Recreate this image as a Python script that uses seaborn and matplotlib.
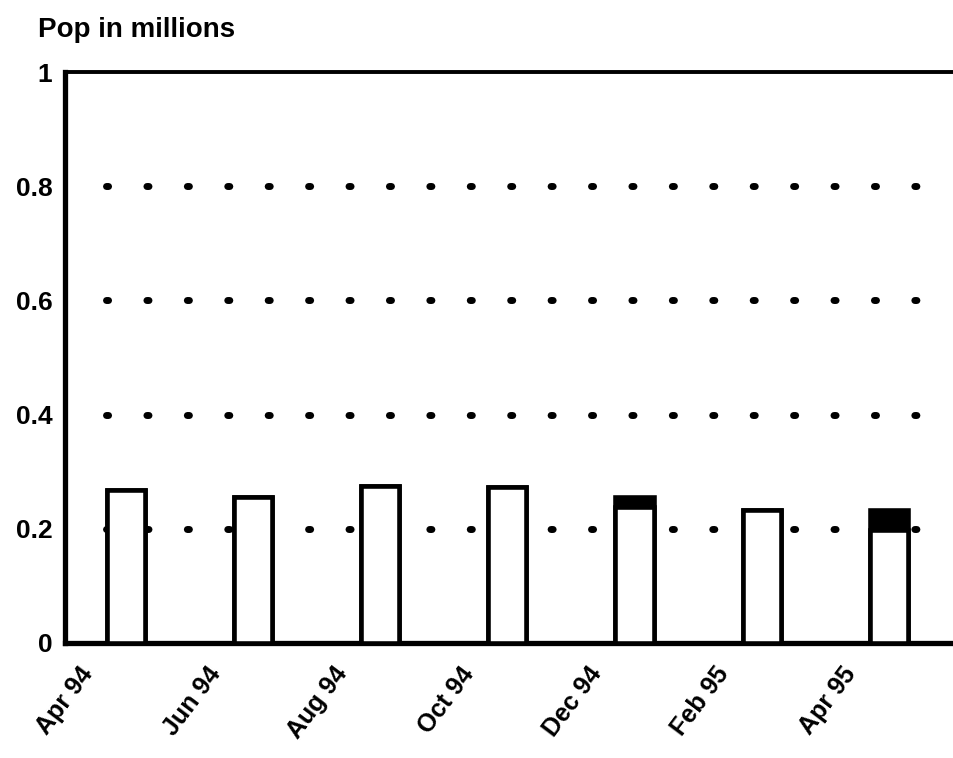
import matplotlib
matplotlib.use("Agg")
import matplotlib.pyplot as plt
import matplotlib.transforms as mtransforms
import seaborn as sns
import pandas as pd

# --- data ---
months = ["Apr 94", "Jun 94", "Aug 94", "Oct 94", "Dec 94", "Feb 95", "Apr 95"]
base_pop = [0.268, 0.256, 0.275, 0.273, 0.238, 0.233, 0.198]   # white part
extra_pop = [0.0, 0.0, 0.0, 0.0, 0.018, 0.0, 0.035]          # black cap
yticks = [0, 0.2, 0.4, 0.6, 0.8, 1]
ytick_labels = ["0", "0.2", "0.4", "0.6", "0.8", "1"]

df = pd.DataFrame({"month": months, "base": base_pop,
                   "total": [b + e for b, e in zip(base_pop, extra_pop)]})

sns.set_style("white")
plt.rcParams["font.family"] = ["Liberation Sans", "DejaVu Sans"]
plt.rcParams["font.weight"] = "bold"
plt.rcParams["text.color"] = "black"
plt.rcParams["xtick.color"] = "black"
plt.rcParams["ytick.color"] = "black"

fig = plt.figure(figsize=(9.54, 7.58), dpi=100)
ax = fig.add_axes([65 / 954, 115 / 758, 900 / 954, 571 / 758])

# dotted grid behind the bars
for y in yticks[1:-1]:
    ax.axhline(y, color="black", linewidth=5.0, linestyle=(0, (0.3, 5.52)),
               dash_capstyle="round", zorder=0, xmin=0.046, xmax=0.96)

# stacked bars: black total first, white base on top
sns.barplot(data=df, x="month", y="total", color="black", width=0.3,
            edgecolor="black", linewidth=3.3, saturation=1, ax=ax, zorder=2)
sns.barplot(data=df, x="month", y="base", color="white", width=0.3,
            edgecolor="black", linewidth=3.3, saturation=1, ax=ax, zorder=3)

ax.set_xlim(-0.48, 6.6)
ax.set_ylim(0, 1)
ax.set_yticks(yticks)
ax.set_yticklabels(ytick_labels, fontsize=19, fontweight="bold")
ax.set_xlabel("")
ax.set_ylabel("")
ax.tick_params(axis="both", length=0)
ax.tick_params(axis="y", pad=9)
ax.tick_params(axis="x", pad=14)

plt.setp(ax.get_xticklabels(), rotation=53, ha="right", fontsize=18,
         fontweight="bold")
shift = mtransforms.ScaledTranslation(-0.28, 0, fig.dpi_scale_trans)
for lbl in ax.get_xticklabels():
    lbl.set_transform(lbl.get_transform() + shift)

for side in ["left", "bottom"]:
    ax.spines[side].set_linewidth(3.8)
ax.spines["top"].set_linewidth(2.8)
for s in ax.spines.values():
    s.set_color("black")

fig.text(38 / 954, 1 - 30 / 758, "Pop in millions", fontsize=20,
         fontweight="bold", ha="left", va="center")

fig.savefig("out.png", dpi=100)
